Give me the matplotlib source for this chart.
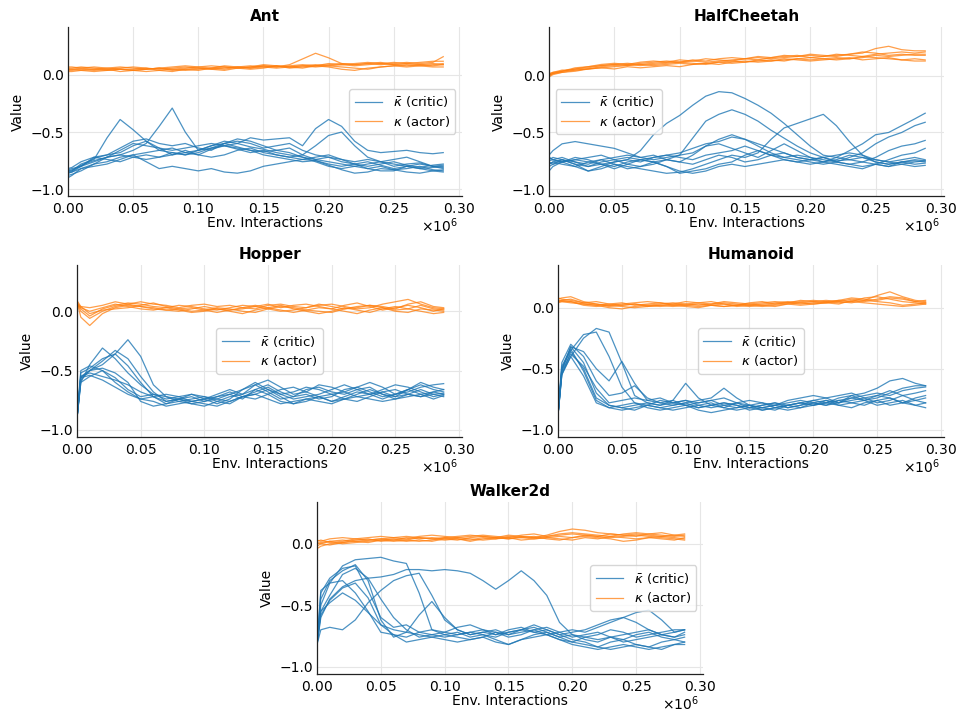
import matplotlib
matplotlib.use("Agg")
import matplotlib.pyplot as plt
import numpy as np

# x positions of the read-off points (in units of 1e6 env. interactions)
X_POINTS = [0, 0.003, 0.01, 0.02, 0.03, 0.04, 0.05, 0.06, 0.07, 0.08, 0.09, 0.10,
            0.11, 0.12, 0.13, 0.14, 0.15, 0.16, 0.17, 0.18, 0.19, 0.20, 0.21, 0.22,
            0.23, 0.24, 0.25, 0.26, 0.27, 0.28, 0.288]

ANT_CRITIC = [
    [-0.85,-0.84,-0.78,-0.74,-0.55,-0.39,-0.48,-0.58,-0.66,-0.68,-0.70,-0.68,-0.64,-0.60,-0.63,-0.66,-0.70,-0.72,-0.74,-0.76,-0.75,-0.78,-0.80,-0.78,-0.76,-0.79,-0.82,-0.80,-0.78,-0.80,-0.81],
    [-0.83,-0.82,-0.80,-0.76,-0.72,-0.70,-0.66,-0.60,-0.45,-0.29,-0.50,-0.66,-0.64,-0.62,-0.65,-0.68,-0.66,-0.70,-0.72,-0.70,-0.74,-0.76,-0.78,-0.80,-0.82,-0.80,-0.83,-0.82,-0.80,-0.83,-0.84],
    [-0.86,-0.85,-0.80,-0.73,-0.70,-0.68,-0.62,-0.58,-0.64,-0.70,-0.68,-0.66,-0.62,-0.58,-0.60,-0.55,-0.57,-0.56,-0.55,-0.62,-0.47,-0.39,-0.45,-0.58,-0.66,-0.68,-0.67,-0.66,-0.68,-0.69,-0.68],
    [-0.84,-0.84,-0.79,-0.75,-0.72,-0.66,-0.60,-0.62,-0.64,-0.66,-0.64,-0.62,-0.60,-0.62,-0.64,-0.66,-0.67,-0.66,-0.64,-0.70,-0.62,-0.53,-0.50,-0.62,-0.72,-0.76,-0.80,-0.78,-0.77,-0.80,-0.79],
    [-0.88,-0.87,-0.84,-0.78,-0.76,-0.72,-0.70,-0.76,-0.82,-0.80,-0.82,-0.84,-0.82,-0.85,-0.86,-0.84,-0.80,-0.78,-0.76,-0.74,-0.75,-0.79,-0.83,-0.86,-0.85,-0.82,-0.83,-0.85,-0.86,-0.84,-0.85],
    [-0.82,-0.81,-0.76,-0.72,-0.70,-0.64,-0.58,-0.56,-0.60,-0.62,-0.60,-0.64,-0.66,-0.60,-0.56,-0.58,-0.62,-0.66,-0.68,-0.72,-0.74,-0.72,-0.76,-0.78,-0.82,-0.84,-0.84,-0.80,-0.82,-0.84,-0.83],
    [-0.90,-0.88,-0.82,-0.80,-0.78,-0.74,-0.70,-0.68,-0.66,-0.64,-0.68,-0.70,-0.65,-0.62,-0.60,-0.63,-0.65,-0.68,-0.70,-0.72,-0.76,-0.80,-0.82,-0.80,-0.78,-0.76,-0.74,-0.72,-0.76,-0.80,-0.82],
    [-0.84,-0.83,-0.80,-0.72,-0.74,-0.76,-0.72,-0.70,-0.72,-0.68,-0.70,-0.66,-0.62,-0.60,-0.58,-0.60,-0.64,-0.62,-0.60,-0.66,-0.70,-0.72,-0.74,-0.76,-0.74,-0.76,-0.78,-0.80,-0.82,-0.81,-0.80],
    [-0.86,-0.85,-0.82,-0.78,-0.72,-0.70,-0.72,-0.74,-0.72,-0.70,-0.66,-0.70,-0.72,-0.70,-0.66,-0.64,-0.68,-0.70,-0.72,-0.74,-0.72,-0.70,-0.74,-0.78,-0.80,-0.78,-0.76,-0.79,-0.81,-0.79,-0.78],
]
ANT_ACTOR = [
    [0.05,0.05,0.06,0.05,0.04,0.05,0.04,0.05,0.06,0.05,0.06,0.07,0.06,0.07,0.06,0.07,0.08,0.07,0.08,0.09,0.08,0.09,0.10,0.09,0.10,0.09,0.10,0.11,0.10,0.11,0.16],
    [0.04,0.04,0.05,0.04,0.05,0.03,0.04,0.03,0.04,0.05,0.04,0.05,0.06,0.05,0.07,0.06,0.08,0.07,0.09,0.14,0.19,0.15,0.10,0.09,0.10,0.11,0.09,0.10,0.09,0.10,0.09],
    [0.06,0.06,0.07,0.06,0.05,0.06,0.07,0.06,0.05,0.06,0.07,0.06,0.05,0.06,0.07,0.08,0.07,0.06,0.07,0.08,0.07,0.08,0.07,0.06,0.05,0.07,0.08,0.07,0.08,0.07,0.07],
    [0.05,0.05,0.04,0.05,0.06,0.05,0.05,0.06,0.04,0.03,0.05,0.06,0.05,0.04,0.06,0.05,0.06,0.08,0.07,0.06,0.08,0.10,0.09,0.10,0.11,0.10,0.11,0.10,0.11,0.12,0.12],
    [0.07,0.07,0.06,0.07,0.06,0.07,0.06,0.05,0.06,0.07,0.08,0.07,0.08,0.07,0.06,0.07,0.09,0.08,0.07,0.08,0.09,0.08,0.09,0.08,0.09,0.10,0.09,0.08,0.09,0.08,0.09],
    [0.03,0.03,0.04,0.03,0.04,0.05,0.04,0.05,0.06,0.04,0.05,0.04,0.06,0.08,0.07,0.06,0.07,0.08,0.06,0.07,0.08,0.07,0.05,0.04,0.06,0.07,0.08,0.09,0.08,0.09,0.10],
]

CHEETAH_CRITIC = [
    [-0.75,-0.74,-0.72,-0.76,-0.80,-0.78,-0.76,-0.74,-0.66,-0.52,-0.42,-0.35,-0.26,-0.18,-0.14,-0.15,-0.20,-0.26,-0.33,-0.42,-0.52,-0.62,-0.70,-0.72,-0.74,-0.72,-0.76,-0.78,-0.76,-0.75,-0.76],
    [-0.78,-0.76,-0.74,-0.78,-0.80,-0.76,-0.74,-0.78,-0.80,-0.78,-0.74,-0.70,-0.55,-0.40,-0.34,-0.30,-0.34,-0.40,-0.48,-0.55,-0.62,-0.68,-0.72,-0.75,-0.74,-0.76,-0.72,-0.66,-0.62,-0.60,-0.57],
    [-0.72,-0.74,-0.76,-0.80,-0.84,-0.82,-0.78,-0.80,-0.82,-0.84,-0.86,-0.85,-0.82,-0.78,-0.74,-0.70,-0.72,-0.68,-0.56,-0.46,-0.42,-0.38,-0.34,-0.44,-0.58,-0.70,-0.76,-0.78,-0.76,-0.78,-0.77],
    [-0.80,-0.78,-0.76,-0.74,-0.76,-0.78,-0.80,-0.76,-0.74,-0.72,-0.70,-0.68,-0.64,-0.60,-0.58,-0.54,-0.56,-0.60,-0.64,-0.68,-0.72,-0.74,-0.76,-0.72,-0.66,-0.60,-0.52,-0.50,-0.44,-0.38,-0.33],
    [-0.70,-0.66,-0.60,-0.58,-0.60,-0.62,-0.64,-0.68,-0.72,-0.74,-0.72,-0.70,-0.68,-0.62,-0.56,-0.52,-0.56,-0.62,-0.68,-0.72,-0.74,-0.76,-0.78,-0.76,-0.72,-0.68,-0.60,-0.54,-0.50,-0.44,-0.41],
    [-0.76,-0.78,-0.74,-0.78,-0.84,-0.80,-0.76,-0.74,-0.76,-0.72,-0.70,-0.72,-0.74,-0.70,-0.68,-0.66,-0.62,-0.66,-0.70,-0.72,-0.70,-0.72,-0.74,-0.76,-0.78,-0.80,-0.78,-0.74,-0.70,-0.68,-0.64],
    [-0.84,-0.80,-0.76,-0.72,-0.74,-0.78,-0.82,-0.78,-0.74,-0.76,-0.80,-0.84,-0.86,-0.84,-0.80,-0.78,-0.80,-0.78,-0.76,-0.74,-0.76,-0.78,-0.76,-0.78,-0.80,-0.82,-0.78,-0.80,-0.78,-0.80,-0.79],
    [-0.74,-0.72,-0.74,-0.76,-0.78,-0.74,-0.72,-0.70,-0.72,-0.70,-0.74,-0.76,-0.70,-0.62,-0.60,-0.64,-0.68,-0.72,-0.66,-0.60,-0.66,-0.72,-0.76,-0.74,-0.70,-0.72,-0.74,-0.76,-0.74,-0.72,-0.74],
    [-0.78,-0.76,-0.78,-0.80,-0.76,-0.74,-0.78,-0.82,-0.80,-0.76,-0.74,-0.76,-0.78,-0.74,-0.70,-0.72,-0.76,-0.74,-0.70,-0.68,-0.72,-0.74,-0.72,-0.70,-0.68,-0.70,-0.74,-0.76,-0.78,-0.76,-0.75],
    [-0.72,-0.74,-0.76,-0.74,-0.72,-0.70,-0.74,-0.72,-0.74,-0.76,-0.80,-0.86,-0.84,-0.82,-0.78,-0.76,-0.70,-0.66,-0.70,-0.74,-0.76,-0.74,-0.72,-0.76,-0.78,-0.76,-0.78,-0.80,-0.76,-0.74,-0.75],
]
CHEETAH_ACTOR = [
    [0.00,0.02,0.04,0.06,0.08,0.09,0.10,0.11,0.10,0.11,0.12,0.12,0.13,0.12,0.13,0.14,0.15,0.16,0.15,0.16,0.17,0.18,0.17,0.18,0.19,0.20,0.24,0.26,0.23,0.22,0.22],
    [0.01,0.03,0.05,0.05,0.06,0.07,0.08,0.09,0.10,0.09,0.10,0.11,0.10,0.11,0.12,0.11,0.12,0.14,0.13,0.14,0.15,0.14,0.15,0.16,0.15,0.16,0.18,0.17,0.18,0.19,0.19],
    [-0.01,0.01,0.03,0.04,0.06,0.07,0.06,0.08,0.07,0.08,0.09,0.08,0.10,0.11,0.10,0.12,0.13,0.12,0.13,0.15,0.14,0.13,0.14,0.15,0.16,0.14,0.15,0.16,0.14,0.13,0.13],
    [0.02,0.03,0.04,0.06,0.07,0.09,0.10,0.09,0.11,0.12,0.13,0.12,0.14,0.13,0.15,0.16,0.15,0.14,0.16,0.18,0.17,0.19,0.18,0.17,0.19,0.21,0.20,0.18,0.19,0.18,0.18],
    [0.00,0.02,0.03,0.05,0.06,0.08,0.09,0.10,0.09,0.10,0.11,0.12,0.11,0.10,0.12,0.13,0.12,0.13,0.14,0.13,0.15,0.16,0.15,0.14,0.15,0.17,0.16,0.15,0.14,0.15,0.14],
    [0.01,0.02,0.04,0.07,0.08,0.10,0.11,0.10,0.12,0.13,0.12,0.14,0.13,0.15,0.14,0.13,0.15,0.17,0.16,0.17,0.18,0.16,0.17,0.19,0.18,0.17,0.19,0.20,0.21,0.20,0.21],
]

HOPPER_CRITIC = [
    [-0.90,-0.55,-0.50,-0.45,-0.36,-0.24,-0.38,-0.62,-0.72,-0.74,-0.76,-0.74,-0.72,-0.70,-0.74,-0.66,-0.62,-0.68,-0.72,-0.66,-0.64,-0.68,-0.70,-0.66,-0.64,-0.70,-0.72,-0.66,-0.60,-0.64,-0.66],
    [-0.90,-0.60,-0.45,-0.31,-0.40,-0.52,-0.62,-0.70,-0.72,-0.76,-0.74,-0.72,-0.76,-0.78,-0.72,-0.68,-0.64,-0.70,-0.74,-0.72,-0.70,-0.66,-0.62,-0.66,-0.70,-0.68,-0.72,-0.70,-0.66,-0.70,-0.69],
    [-0.90,-0.58,-0.50,-0.42,-0.33,-0.40,-0.55,-0.68,-0.76,-0.74,-0.70,-0.72,-0.74,-0.70,-0.66,-0.62,-0.68,-0.74,-0.72,-0.70,-0.74,-0.72,-0.66,-0.64,-0.68,-0.72,-0.70,-0.68,-0.64,-0.62,-0.61],
    [-0.90,-0.52,-0.48,-0.40,-0.36,-0.46,-0.60,-0.72,-0.78,-0.76,-0.78,-0.80,-0.76,-0.72,-0.70,-0.66,-0.70,-0.76,-0.78,-0.74,-0.72,-0.76,-0.74,-0.70,-0.66,-0.70,-0.74,-0.72,-0.70,-0.68,-0.70],
    [-0.90,-0.55,-0.52,-0.55,-0.58,-0.62,-0.68,-0.72,-0.70,-0.72,-0.76,-0.74,-0.70,-0.66,-0.70,-0.62,-0.58,-0.64,-0.70,-0.68,-0.62,-0.64,-0.68,-0.72,-0.70,-0.66,-0.62,-0.64,-0.68,-0.72,-0.70],
    [-0.90,-0.56,-0.54,-0.58,-0.64,-0.70,-0.74,-0.76,-0.80,-0.78,-0.76,-0.78,-0.80,-0.76,-0.72,-0.70,-0.74,-0.78,-0.76,-0.74,-0.76,-0.78,-0.74,-0.72,-0.74,-0.76,-0.74,-0.70,-0.72,-0.70,-0.72],
    [-0.90,-0.50,-0.46,-0.50,-0.56,-0.66,-0.72,-0.70,-0.74,-0.72,-0.70,-0.74,-0.78,-0.74,-0.66,-0.60,-0.66,-0.70,-0.68,-0.64,-0.66,-0.70,-0.68,-0.64,-0.60,-0.64,-0.70,-0.66,-0.62,-0.66,-0.68],
    [-0.90,-0.56,-0.50,-0.48,-0.52,-0.60,-0.76,-0.80,-0.78,-0.74,-0.72,-0.76,-0.72,-0.68,-0.72,-0.74,-0.70,-0.66,-0.64,-0.68,-0.72,-0.76,-0.72,-0.68,-0.70,-0.74,-0.70,-0.66,-0.70,-0.74,-0.71],
    [-0.90,-0.60,-0.55,-0.50,-0.60,-0.68,-0.74,-0.72,-0.76,-0.74,-0.78,-0.76,-0.74,-0.76,-0.72,-0.70,-0.66,-0.72,-0.78,-0.76,-0.72,-0.70,-0.74,-0.76,-0.72,-0.68,-0.66,-0.70,-0.72,-0.68,-0.66],
]
HOPPER_ACTOR = [
    [0.08,-0.05,-0.12,-0.02,0.03,0.05,0.04,0.02,0.01,0.02,0.00,0.01,0.03,0.02,0.00,-0.01,0.02,0.04,0.03,0.01,0.00,-0.01,0.02,0.04,0.05,0.03,0.01,0.02,0.05,0.02,0.01],
    [0.08,0.02,-0.04,0.02,0.05,0.07,0.06,0.04,0.03,0.05,0.04,0.02,0.01,0.03,0.05,0.04,0.02,0.00,0.01,0.03,0.05,0.06,0.04,0.02,0.03,0.06,0.08,0.10,0.06,0.03,0.02],
    [0.06,0.04,0.03,0.05,0.08,0.06,0.04,0.03,0.01,0.00,0.02,0.04,0.02,0.00,-0.02,0.01,0.03,0.05,0.02,0.00,-0.02,0.00,0.03,0.01,-0.01,0.02,0.04,0.02,0.00,-0.02,-0.01],
    [0.07,0.00,-0.06,0.00,0.04,0.06,0.08,0.06,0.05,0.03,0.05,0.06,0.04,0.05,0.03,0.02,0.05,0.06,0.04,0.03,0.06,0.04,0.02,0.03,0.05,0.04,0.02,0.06,0.08,0.04,0.03],
    [0.05,0.03,0.00,0.03,0.06,0.04,0.02,0.01,0.03,0.01,-0.01,0.00,0.02,0.01,0.03,0.05,0.03,0.01,-0.01,0.01,0.03,0.02,0.00,-0.02,0.01,0.03,0.00,-0.01,0.02,0.01,0.00],
    [0.09,0.04,-0.02,0.01,0.02,0.03,0.05,0.07,0.04,0.02,0.03,0.01,-0.01,0.01,0.02,0.04,0.06,0.03,0.05,0.06,0.04,0.02,0.05,0.07,0.04,0.01,0.03,0.05,0.03,0.00,0.02],
]

HUMANOID_CRITIC = [
    [-0.88,-0.55,-0.40,-0.25,-0.17,-0.20,-0.45,-0.72,-0.78,-0.80,-0.78,-0.76,-0.80,-0.82,-0.80,-0.78,-0.82,-0.80,-0.78,-0.82,-0.80,-0.76,-0.78,-0.74,-0.72,-0.76,-0.74,-0.70,-0.66,-0.64,-0.64],
    [-0.88,-0.50,-0.35,-0.22,-0.20,-0.40,-0.65,-0.78,-0.80,-0.76,-0.78,-0.80,-0.78,-0.76,-0.80,-0.82,-0.80,-0.84,-0.82,-0.80,-0.78,-0.80,-0.76,-0.78,-0.74,-0.76,-0.72,-0.74,-0.78,-0.76,-0.78],
    [-0.88,-0.52,-0.32,-0.36,-0.50,-0.60,-0.44,-0.62,-0.76,-0.78,-0.80,-0.78,-0.82,-0.80,-0.78,-0.80,-0.84,-0.82,-0.80,-0.78,-0.76,-0.78,-0.80,-0.76,-0.74,-0.72,-0.70,-0.72,-0.68,-0.66,-0.65],
    [-0.88,-0.45,-0.30,-0.40,-0.60,-0.72,-0.70,-0.64,-0.74,-0.78,-0.76,-0.80,-0.82,-0.80,-0.78,-0.80,-0.82,-0.80,-0.78,-0.80,-0.82,-0.78,-0.76,-0.80,-0.78,-0.76,-0.80,-0.78,-0.76,-0.80,-0.82],
    [-0.88,-0.50,-0.32,-0.45,-0.70,-0.80,-0.82,-0.80,-0.78,-0.80,-0.76,-0.62,-0.74,-0.80,-0.82,-0.78,-0.80,-0.82,-0.84,-0.80,-0.78,-0.76,-0.74,-0.78,-0.72,-0.70,-0.66,-0.60,-0.58,-0.62,-0.64],
    [-0.88,-0.55,-0.36,-0.50,-0.74,-0.80,-0.82,-0.84,-0.80,-0.82,-0.80,-0.78,-0.76,-0.74,-0.66,-0.74,-0.80,-0.82,-0.80,-0.82,-0.80,-0.78,-0.80,-0.78,-0.76,-0.74,-0.78,-0.76,-0.72,-0.76,-0.74],
    [-0.88,-0.48,-0.34,-0.52,-0.76,-0.82,-0.80,-0.78,-0.82,-0.84,-0.82,-0.80,-0.84,-0.86,-0.84,-0.82,-0.80,-0.78,-0.82,-0.84,-0.82,-0.80,-0.78,-0.76,-0.78,-0.80,-0.76,-0.74,-0.78,-0.80,-0.78],
    [-0.88,-0.52,-0.38,-0.48,-0.66,-0.78,-0.76,-0.74,-0.76,-0.74,-0.78,-0.76,-0.78,-0.76,-0.74,-0.78,-0.76,-0.78,-0.80,-0.76,-0.74,-0.72,-0.74,-0.72,-0.70,-0.74,-0.72,-0.68,-0.72,-0.70,-0.68],
    [-0.88,-0.54,-0.40,-0.56,-0.78,-0.82,-0.84,-0.82,-0.80,-0.82,-0.84,-0.82,-0.80,-0.78,-0.82,-0.84,-0.82,-0.84,-0.82,-0.80,-0.78,-0.80,-0.78,-0.80,-0.82,-0.78,-0.76,-0.80,-0.78,-0.74,-0.72],
]
HUMANOID_ACTOR = [
    [0.07,0.08,0.09,0.05,0.03,0.01,0.02,0.03,0.02,0.03,0.04,0.03,0.02,0.03,0.04,0.03,0.02,0.03,0.04,0.05,0.04,0.05,0.06,0.05,0.07,0.06,0.10,0.13,0.09,0.06,0.05],
    [0.05,0.05,0.04,0.03,0.02,0.00,-0.01,0.01,0.02,0.01,0.02,0.01,0.00,0.02,0.01,0.02,0.01,0.02,0.03,0.04,0.03,0.04,0.05,0.04,0.05,0.04,0.03,0.02,0.01,0.02,0.03],
    [0.06,0.06,0.07,0.04,0.03,0.02,0.03,0.04,0.05,0.04,0.03,0.05,0.04,0.03,0.05,0.04,0.03,0.04,0.05,0.04,0.06,0.05,0.04,0.06,0.08,0.07,0.06,0.08,0.07,0.05,0.06],
    [0.04,0.05,0.05,0.02,0.01,0.02,0.01,0.00,0.01,0.02,0.01,0.02,0.03,0.02,0.01,0.02,0.03,0.02,0.01,0.03,0.02,0.03,0.04,0.05,0.04,0.06,0.05,0.04,0.02,0.03,0.04],
    [0.08,0.07,0.06,0.04,0.05,0.03,0.04,0.02,0.03,0.04,0.02,0.03,0.04,0.05,0.03,0.02,0.04,0.05,0.03,0.04,0.05,0.06,0.05,0.06,0.05,0.08,0.09,0.07,0.05,0.04,0.03],
    [0.05,0.06,0.05,0.03,0.02,0.03,0.02,0.03,0.01,0.02,0.03,0.02,0.01,0.02,0.03,0.01,0.02,0.01,0.02,0.03,0.04,0.03,0.04,0.03,0.06,0.05,0.07,0.09,0.08,0.05,0.04],
]

WALKER_CRITIC = [
    [-0.82,-0.60,-0.45,-0.35,-0.30,-0.28,-0.27,-0.25,-0.21,-0.21,-0.22,-0.21,-0.22,-0.24,-0.30,-0.37,-0.30,-0.22,-0.30,-0.42,-0.64,-0.74,-0.76,-0.78,-0.76,-0.80,-0.78,-0.76,-0.74,-0.76,-0.74],
    [-0.82,-0.50,-0.32,-0.18,-0.13,-0.12,-0.11,-0.14,-0.16,-0.40,-0.70,-0.74,-0.72,-0.76,-0.74,-0.78,-0.82,-0.78,-0.74,-0.72,-0.76,-0.80,-0.82,-0.84,-0.80,-0.78,-0.82,-0.84,-0.80,-0.78,-0.80],
    [-0.82,-0.45,-0.30,-0.22,-0.17,-0.30,-0.62,-0.76,-0.72,-0.58,-0.47,-0.60,-0.70,-0.74,-0.72,-0.70,-0.74,-0.72,-0.70,-0.74,-0.78,-0.80,-0.76,-0.74,-0.70,-0.72,-0.76,-0.74,-0.72,-0.70,-0.70],
    [-0.82,-0.38,-0.32,-0.30,-0.40,-0.55,-0.72,-0.74,-0.76,-0.72,-0.70,-0.72,-0.68,-0.66,-0.70,-0.72,-0.74,-0.70,-0.68,-0.72,-0.76,-0.74,-0.78,-0.80,-0.76,-0.74,-0.72,-0.70,-0.74,-0.76,-0.72],
    [-0.82,-0.55,-0.42,-0.25,-0.20,-0.28,-0.45,-0.60,-0.70,-0.76,-0.74,-0.72,-0.74,-0.72,-0.70,-0.74,-0.72,-0.70,-0.66,-0.70,-0.74,-0.78,-0.80,-0.84,-0.86,-0.84,-0.82,-0.84,-0.86,-0.82,-0.80],
    [-0.82,-0.70,-0.68,-0.70,-0.62,-0.48,-0.38,-0.30,-0.26,-0.24,-0.42,-0.62,-0.70,-0.74,-0.72,-0.74,-0.70,-0.68,-0.72,-0.70,-0.74,-0.72,-0.70,-0.66,-0.62,-0.60,-0.64,-0.70,-0.74,-0.72,-0.70],
    [-0.82,-0.40,-0.28,-0.20,-0.18,-0.38,-0.60,-0.68,-0.66,-0.72,-0.74,-0.76,-0.74,-0.72,-0.74,-0.76,-0.72,-0.70,-0.72,-0.74,-0.72,-0.70,-0.72,-0.68,-0.64,-0.60,-0.56,-0.54,-0.62,-0.72,-0.70],
    [-0.82,-0.55,-0.48,-0.40,-0.46,-0.56,-0.66,-0.70,-0.72,-0.74,-0.76,-0.78,-0.80,-0.78,-0.76,-0.80,-0.82,-0.78,-0.76,-0.74,-0.78,-0.82,-0.84,-0.86,-0.84,-0.82,-0.84,-0.86,-0.84,-0.82,-0.82],
    [-0.82,-0.58,-0.46,-0.36,-0.32,-0.44,-0.66,-0.74,-0.80,-0.78,-0.76,-0.74,-0.76,-0.78,-0.76,-0.72,-0.76,-0.74,-0.70,-0.68,-0.72,-0.76,-0.74,-0.72,-0.76,-0.78,-0.74,-0.72,-0.76,-0.78,-0.76],
]
WALKER_ACTOR = [
    [0.00,0.01,0.02,0.03,0.02,0.03,0.04,0.03,0.05,0.04,0.05,0.04,0.03,0.05,0.06,0.05,0.04,0.06,0.05,0.07,0.10,0.12,0.11,0.09,0.08,0.07,0.08,0.07,0.06,0.07,0.08],
    [-0.04,-0.02,0.00,0.01,0.02,0.01,0.03,0.02,0.03,0.05,0.04,0.03,0.04,0.03,0.05,0.04,0.06,0.05,0.04,0.05,0.06,0.05,0.07,0.06,0.05,0.06,0.07,0.06,0.05,0.04,0.03],
    [0.03,0.02,0.04,0.05,0.04,0.05,0.06,0.05,0.04,0.06,0.07,0.06,0.05,0.06,0.07,0.06,0.05,0.07,0.08,0.06,0.07,0.08,0.07,0.06,0.08,0.07,0.06,0.08,0.09,0.07,0.06],
    [-0.02,0.00,-0.01,0.01,0.03,0.04,0.02,0.03,0.02,0.03,0.02,0.04,0.05,0.04,0.03,0.04,0.05,0.03,0.04,0.05,0.04,0.03,0.05,0.04,0.06,0.05,0.04,0.05,0.06,0.05,0.04],
    [0.02,0.03,0.01,0.02,0.04,0.03,0.04,0.05,0.06,0.05,0.04,0.05,0.06,0.07,0.06,0.05,0.07,0.06,0.05,0.06,0.08,0.09,0.08,0.07,0.06,0.08,0.09,0.08,0.07,0.06,0.07],
    [0.01,0.00,0.02,0.00,0.01,0.02,0.03,0.04,0.03,0.02,0.03,0.05,0.04,0.02,0.04,0.05,0.04,0.05,0.06,0.04,0.03,0.05,0.06,0.05,0.04,0.02,0.03,0.05,0.04,0.03,0.05],
]

TITLES = ["Ant", "HalfCheetah", "Hopper", "Humanoid", "Walker2d"]
CRITICS = [ANT_CRITIC, CHEETAH_CRITIC, HOPPER_CRITIC, HUMANOID_CRITIC, WALKER_CRITIC]
ACTORS = [ANT_ACTOR, CHEETAH_ACTOR, HOPPER_ACTOR, HUMANOID_ACTOR, WALKER_ACTOR]
Y_TOPS = [0.42, 0.43, 0.39, 0.35, 0.34]
LEGEND_LOCS = ["center right", "center left", "center", "center", "center right"]
CRITIC_LABEL = r"$\bar{\kappa}$ (critic)"
ACTOR_LABEL = r"$\kappa$ (actor)"

W, H = 956, 712
# axes boxes in pixels: left, top, width, height
BOXES = [(68, 27, 394, 169), (549, 27, 395, 169), (77, 265, 385, 172),
         (558, 265, 386, 172), (317, 502, 386, 172)]

plt.rcParams['font.family'] = 'DejaVu Sans'
fig = plt.figure(figsize=(W / 100, H / 100), dpi=100)

x = np.array(X_POINTS) * 1e6
for i in range(5):
    l, t, w, h = BOXES[i]
    ax = fig.add_axes([l / W, 1 - (t + h) / H, w / W, h / H])
    for k, run in enumerate(CRITICS[i]):
        ax.plot(x, run, color="#1f77b4", lw=0.9, alpha=0.8,
                label=CRITIC_LABEL if k == 0 else None)
    for k, run in enumerate(ACTORS[i]):
        ax.plot(x, run, color="#ff7f0e", lw=0.9, alpha=0.75,
                label=ACTOR_LABEL if k == 0 else None)
    ax.set_xlim(0, 0.3024e6)
    ax.set_ylim(-1.06, Y_TOPS[i])
    ax.set_xticks(np.arange(0, 0.31e6, 0.05e6))
    ax.set_yticks([-1.0, -0.5, 0.0])
    ax.ticklabel_format(style='sci', axis='x', scilimits=(6, 6), useMathText=True)
    ax.xaxis.get_offset_text().set_visible(False)
    ax.annotate(r"$\times10^{6}$", xy=(1.0, 0.0), xycoords="axes fraction",
                xytext=(-3, -14.5), textcoords="offset points",
                ha="right", va="top", fontsize=10)
    ax.grid(True, color="#e6e6e6", lw=0.8)
    ax.set_axisbelow(True)
    ax.tick_params(axis="x", length=0, labelsize=10, pad=4)
    ax.tick_params(axis="y", length=0, labelsize=10, pad=3)
    for s in ("top", "right"):
        ax.spines[s].set_visible(False)
    for s in ("left", "bottom"):
        ax.spines[s].set_color("#222222")
        ax.spines[s].set_linewidth(0.9)
    ax.set_title(TITLES[i], fontsize=11, fontweight="bold", pad=4)
    ax.set_xlabel("Env. Interactions", fontsize=10, labelpad=0)
    ax.set_ylabel("Value", fontsize=10, labelpad=4)
    ax.legend(loc=LEGEND_LOCS[i], fontsize=9.5, frameon=True, framealpha=0.8,
              edgecolor="#cccccc", handlelength=2.1, labelspacing=0.35)

fig.savefig("out.png", dpi=100)
